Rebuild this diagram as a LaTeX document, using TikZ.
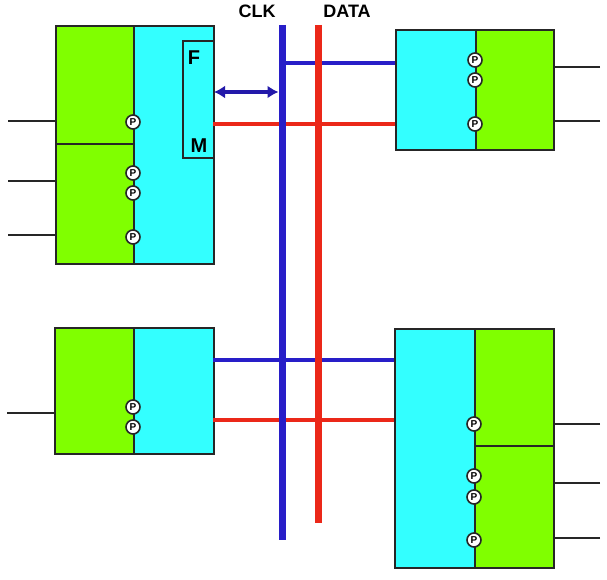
\documentclass[tikz,border=0pt]{standalone}
\usepackage{fontspec}
\setmainfont{Liberation Sans}
\usepackage{tikz}
\usetikzlibrary{positioning}
\usetikzlibrary{arrows.meta}
\definecolor{pgreen}{RGB}{128,255,0}
\definecolor{pcyan}{RGB}{51,255,255}
\definecolor{clkblue}{RGB}{40,30,200}
\definecolor{datared}{RGB}{235,40,25}
\definecolor{arrowblue}{RGB}{35,25,170}
\tikzset{part/.style={draw=black!85, line width=2pt, inner sep=0pt, anchor=north west}}
\tikzset{pnode/.style={circle, draw=black!85, fill=white, line width=1.6pt, minimum size=14pt, inner sep=0pt, font=\bfseries\fontsize{10}{10}\selectfont}}
\tikzset{stub/.style={black!85, line width=1.8pt}}
\tikzset{clkwire/.style={clkblue, line width=3.8pt}}
\tikzset{datawire/.style={datared, line width=3.8pt}}

\begin{document}
\begin{tikzpicture}[x=1pt,y=-1pt]
\useasboundingbox (0,0) rectangle (607,580);
% bus end points
\coordinate (clktop) at (282,25);
\coordinate (clkbot) at (282,540);
\coordinate (datatop) at (318,25);
\coordinate (databot) at (318,523);
% top left block
\node[part, fill=pgreen, minimum width=78, minimum height=118] (TLg1) at (55,25) {};
\node[part, fill=pgreen, minimum width=78, minimum height=120] (TLg2) at (55,143) {};
\node[part, fill=pcyan, minimum width=80, minimum height=238] (TLc) at (133,25) {};
\node[part, fill=pcyan, line width=1.6pt, minimum width=31, minimum height=117] (fmbox) at (182,40) {};
\node[font=\bfseries\fontsize{20}{20}\selectfont] (flab) at (194,58) {F};
\node[font=\bfseries\fontsize{20}{20}\selectfont] (mlab) at (199,146) {M};
\node[pnode] (TLp1) at (133,122) {P};
\node[pnode] (TLp2) at (133,173) {P};
\node[pnode] (TLp3) at (133,193) {P};
\node[pnode] (TLp4) at (133,237) {P};
% top right block
\node[part, fill=pcyan, minimum width=80, minimum height=120] (TRc) at (395,29) {};
\node[part, fill=pgreen, minimum width=78, minimum height=120] (TRg) at (475,29) {};
\node[pnode] (TRp1) at (475,60) {P};
\node[pnode] (TRp2) at (475,80) {P};
\node[pnode] (TRp3) at (475,124) {P};
% bottom left block
\node[part, fill=pgreen, minimum width=79, minimum height=126] (BLg) at (54,327) {};
\node[part, fill=pcyan, minimum width=80, minimum height=126] (BLc) at (133,327) {};
\node[pnode] (BLp1) at (133,407) {P};
\node[pnode] (BLp2) at (133,427) {P};
% bottom right block
\node[part, fill=pcyan, minimum width=80, minimum height=239] (BRc) at (394,328) {};
\node[part, fill=pgreen, minimum width=79, minimum height=117] (BRg1) at (474,328) {};
\node[part, fill=pgreen, minimum width=79, minimum height=122] (BRg2) at (474,445) {};
\node[pnode] (BRp1) at (474,424) {P};
\node[pnode] (BRp2) at (474,476) {P};
\node[pnode] (BRp3) at (474,497) {P};
\node[pnode] (BRp4) at (474,540) {P};
% outside lines
\coordinate (in1) at (8,121);
\coordinate (in2) at (8,181);
\coordinate (in3) at (8,235);
\coordinate (in4) at (7,413);
\coordinate (out1) at (600,67);
\coordinate (out2) at (600,121);
\coordinate (out3) at (600,424);
\coordinate (out4) at (600,483);
\coordinate (out5) at (600,538);
\draw[stub] (in1) -- (in1 -| TLg1.west);
\draw[stub] (in2) -- (in2 -| TLg2.west);
\draw[stub] (in3) -- (in3 -| TLg2.west);
\draw[stub] (in4) -- (in4 -| BLg.west);
\draw[stub] (out1) -- (out1 -| TRg.east);
\draw[stub] (out2) -- (out2 -| TRg.east);
\draw[stub] (out3) -- (out3 -| BRg1.east);
\draw[stub] (out4) -- (out4 -| BRg2.east);
\draw[stub] (out5) -- (out5 -| BRg2.east);
% wires to the buses
\coordinate (tclk) at (285,63);
\coordinate (tdata) at (213,124);
\coordinate (bclk) at (213,360);
\coordinate (bdata) at (213,420);
\draw[clkwire] (tclk) -- (tclk -| TRc.west);
\draw[datawire] (tdata) -- (tdata -| TRc.west);
\draw[clkwire] (bclk) -- (bclk -| BRc.west);
\draw[datawire] (bdata) -- (bdata -| BRc.west);
\draw[clkblue, line width=7pt] (clktop) -- (clkbot);
\draw[datared, line width=7pt] (datatop) -- (databot);
\node[font=\bfseries\fontsize{18}{18}\selectfont] (clklab) at (257,11) {CLK};
\node[font=\bfseries\fontsize{18}{18}\selectfont] (datalab) at (347,11) {DATA};
% FM port to the clock
\coordinate (fmport) at (214,92);
\draw[arrowblue, line width=3.2pt, {Latex[length=11pt,width=13pt]}-{Latex[length=11pt,width=13pt]}] (fmport) -- ([xshift=-3.5pt]fmport -| clktop);
\end{tikzpicture}
\end{document}
